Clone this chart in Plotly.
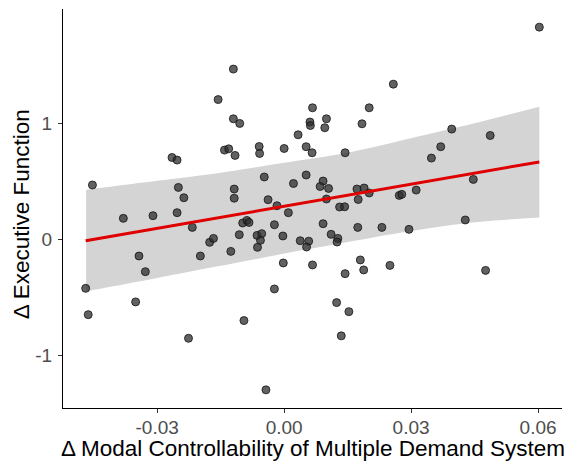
import numpy as np
import plotly.graph_objects as go

# Δ Modal Controllability of Multiple Demand System (x) and Δ Executive Function (y)
modal_ctrl = [
    0.0603, -0.0120, 0.0258, -0.0156, 0.0067, 0.0201, -0.0120, -0.0105, 0.0100, 0.0061,
    0.0062, 0.0096, 0.0184, 0.0033, 0.0396, 0.0487, -0.0265, -0.0253, -0.0141, -0.0131,
    -0.0116, -0.0059, -0.0058, 0.0000, 0.0052, 0.0066, 0.0144, 0.0370, 0.0348, -0.0453,
    -0.0250, -0.0237, -0.0118, -0.0118, -0.0047, 0.0022, 0.0052, -0.0038, 0.0092, 0.0085,
    0.0105, 0.0447, 0.0172, 0.0189, 0.0201, 0.0175, 0.0312, 0.0272, 0.0278, 0.0100,
    -0.0017, -0.0380, -0.0310, -0.0253, 0.0010, -0.0217, -0.0098, -0.0088, -0.0083, -0.0023,
    -0.0106, -0.0064, -0.0053, -0.0003, -0.0176, -0.0167, -0.0056, 0.0038, 0.0058, -0.0063,
    0.0053, -0.0126, -0.0198, -0.0343, -0.0002, 0.0067, -0.0328, -0.0469, -0.0023, -0.0351,
    -0.0463, -0.0095, -0.0226, -0.0043, 0.0131, 0.0143, 0.0092, 0.0174, 0.0231, 0.0295,
    0.0428, 0.0111, 0.0127, 0.0125, 0.0180, 0.0188, 0.0250, 0.0144, 0.0476, 0.0124,
    0.0153, 0.0135,
]
exec_func = [
    1.834, 1.472, 1.342, 1.209, 1.138, 1.138, 1.043, 1.003, 1.043, 1.015,
    0.985, 0.966, 1.000, 0.905, 0.954, 0.899, 0.709, 0.687, 0.773, 0.784,
    0.727, 0.804, 0.744, 0.787, 0.802, 0.750, 0.750, 0.802, 0.704, 0.472,
    0.451, 0.362, 0.437, 0.358, 0.541, 0.485, 0.558, 0.345, 0.506, 0.459,
    0.442, 0.520, 0.437, 0.446, 0.403, 0.347, 0.428, 0.382, 0.391, 0.351,
    0.293, 0.184, 0.207, 0.233, 0.233, 0.106, 0.144, 0.166, 0.149, 0.129,
    0.043, 0.037, 0.052, 0.032, -0.023, 0.011, -0.006, -0.009, -0.013, -0.066,
    -0.063, -0.101, -0.141, -0.141, -0.201, -0.218, -0.276, -0.420, -0.425, -0.537,
    -0.647, -0.698, -0.851, -1.296, 0.282, 0.284, 0.138, 0.106, 0.106, 0.089,
    0.170, 0.046, 0.011, -0.020, -0.175, -0.261, -0.222, -0.293, -0.265, -0.543,
    -0.621, -0.830,
]
# Confidence band of the fitted line
band_x = [-0.0468, -0.030, -0.015, 0.000, 0.015, 0.030, 0.045, 0.0603]
band_upper = [0.431, 0.508, 0.578, 0.664, 0.751, 0.875, 1.004, 1.147]
band_lower = [-0.446, -0.330, -0.226, -0.120, -0.020, 0.075, 0.150, 0.191]

x_ticks = [-0.03, 0.00, 0.03, 0.06]
x_tick_labels = ["-0.03", "0.00", "0.03", "0.06"]
y_ticks = [-1, 0, 1]
y_tick_labels = ["-1", "0", "1"]

x = np.array(modal_ctrl)
y = np.array(exec_func)

# Linear fit line
slope, intercept = np.polyfit(x, y, 1)
line_x = np.array([x.min(), x.max()])
line_y = intercept + slope * line_x

fig = go.Figure()
fig.add_trace(go.Scatter(
    x=band_x, y=band_lower, mode="lines",
    line=dict(width=0, shape="spline", smoothing=0.8, color="#D4D4D4"),
    hoverinfo="skip", showlegend=False,
))
fig.add_trace(go.Scatter(
    x=band_x, y=band_upper, mode="lines", fill="tonexty", fillcolor="#D4D4D4",
    line=dict(width=0, shape="spline", smoothing=0.8, color="#D4D4D4"),
    hoverinfo="skip", showlegend=False,
))
fig.add_trace(go.Scatter(
    x=x, y=y, mode="markers",
    marker=dict(size=8, color="rgba(45,45,45,0.75)",
                line=dict(width=1, color="rgba(20,20,20,0.8)")),
    showlegend=False,
))
fig.add_trace(go.Scatter(
    x=line_x, y=line_y, mode="lines",
    line=dict(color="#E00000", width=3),
    showlegend=False,
))

xr = x.max() - x.min()
yr = y.max() - y.min()
font_family = "Liberation Sans, Arial, sans-serif"
axis_common = dict(
    showgrid=False, zeroline=False, automargin=False,
    showline=True, linecolor="black", linewidth=1.3,
    ticks="outside", ticklen=4, tickwidth=1.2, tickcolor="#333333",
    tickfont=dict(size=19, color="#4D4D4D", family=font_family),
)
fig.update_layout(
    width=569, height=463,
    margin=dict(l=63, r=7, t=9, b=55, autoexpand=False),
    paper_bgcolor="white", plot_bgcolor="white",
    font=dict(family=font_family, color="black"),
    xaxis=dict(
        range=[x.min() - 0.05 * xr, x.max() + 0.05 * xr],
        tickvals=x_ticks, ticktext=x_tick_labels,
        ticklabelstandoff=-2,
        **axis_common,
    ),
    yaxis=dict(
        range=[y.min() - 0.05 * yr, y.max() + 0.05 * yr],
        tickvals=y_ticks, ticktext=y_tick_labels,
        ticklabelstandoff=2,
        **axis_common,
    ),
    annotations=[
        dict(text="Δ Modal Controllability of Multiple Demand System",
             xref="paper", yref="paper", x=0.5, y=-0.1003,
             xanchor="center", yanchor="middle", showarrow=False,
             font=dict(size=22.5, color="black", family=font_family)),
        dict(text="Δ Executive Function",
             xref="paper", yref="paper", x=-0.0836, y=0.486,
             xanchor="center", yanchor="middle", showarrow=False, textangle=-90,
             font=dict(size=22.5, color="black", family=font_family)),
    ],
)

fig.write_html("out.html", config={"displayModeBar": False},
               post_script="document.body.style.margin='0';")
